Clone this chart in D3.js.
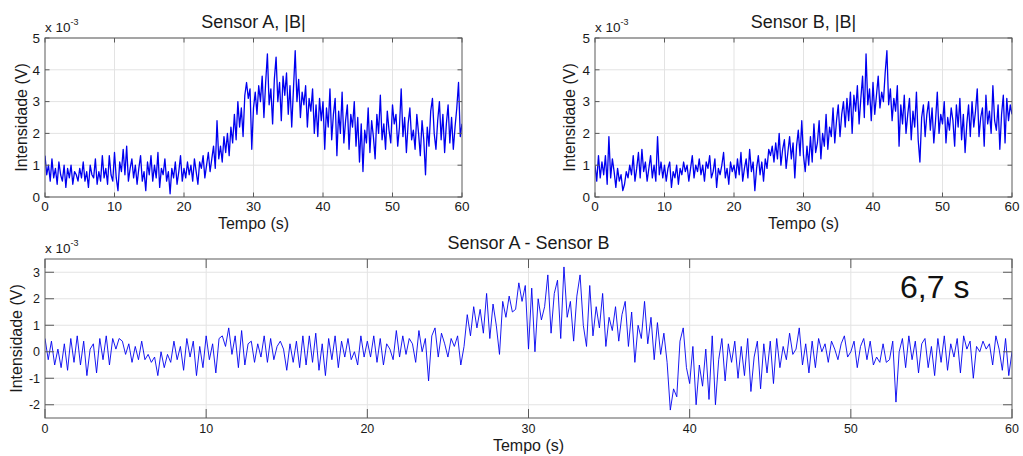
<!DOCTYPE html>
<html>
<head>
<meta charset="utf-8">
<script src="https://cdn.jsdelivr.net/npm/d3@7"></script>
<style>
  html, body { margin: 0; padding: 0; background: #fff; }
  svg { display: block; font-family: "Liberation Sans", Arial, sans-serif; }
</style>
</head>
<body>
<svg id="chart" width="1023" height="456"></svg>
<script>
'use strict';

// values in units of 1e-3 V
const sampleStepTop = 0.25;   // s
const sampleStepDiff = 0.2;   // s

const sensorA = [
  1.3, 0.7, 1.0, 0.5, 1.2, 0.6, 0.9, 0.4, 1.1, 0.7, 0.5, 1.0, 0.3, 0.9, 0.6, 1.0, 0.4, 0.8, 0.7, 0.5,
  0.9, 0.6, 1.1, 0.5, 0.8, 0.3, 1.0, 0.7, 0.6, 1.2, 0.4, 0.8, 0.5, 1.3, 0.6, 0.9, 0.4, 1.3, 0.7, 0.5,
  1.4, 0.6, 0.2, 1.1, 0.8, 1.5, 0.7, 1.6, 0.5, 0.9, 1.2, 0.6, 1.0, 0.4, 0.9, 1.3, 0.5, 0.8, 0.2, 1.1,
  0.7, 1.3, 0.5, 1.0, 0.6, 1.4, 0.3, 0.9, 0.7, 1.2, 0.5, 0.8, 0.1, 0.9, 0.6, 1.1, 0.4, 0.8, 1.3, 0.5,
  0.9, 0.6, 1.1, 0.7, 1.0, 0.5, 1.2, 0.8, 0.4, 1.1, 0.9, 1.3, 0.6, 1.0, 1.4, 0.8, 1.2, 1.6, 0.9, 2.4,
  1.2, 1.6, 1.1, 1.9, 1.4, 2.0, 1.3, 2.2, 1.7, 2.6, 1.8, 3.0, 2.2, 2.8, 1.9, 3.2, 3.6, 3.1, 3.4, 1.5,
  2.8, 3.3, 2.6, 3.5, 3.0, 3.8, 2.5, 3.6, 4.5, 2.9, 3.4, 2.3, 3.7, 4.4, 3.0, 3.6, 2.4, 3.8, 3.2, 3.9,
  2.6, 3.5, 2.2, 3.4, 4.6, 3.0, 3.7, 2.5, 3.3, 2.9, 3.5, 2.2, 3.1, 2.7, 3.4, 2.0, 2.9, 1.9, 3.1, 2.4,
  3.0, 1.5, 2.8, 2.2, 3.4, 1.8, 2.6, 3.1, 1.3, 2.7, 2.0, 3.3, 1.7, 2.4, 2.9, 1.5, 2.6, 2.2, 3.0, 1.6,
  2.5, 1.1, 2.3, 0.8, 2.1, 1.7, 2.8, 1.4, 2.4, 1.9, 1.2, 2.6, 2.0, 3.2, 1.8, 2.3, 1.5, 2.7, 2.1, 1.7,
  2.9, 2.3, 2.6, 1.6, 2.2, 3.4, 1.9, 2.5, 1.4, 2.3, 2.8, 1.8, 2.1, 1.5, 2.6, 2.0, 1.3, 2.4, 1.8, 0.7,
  2.2, 1.6, 2.7, 3.1, 2.0, 1.5, 2.4, 3.0, 1.8, 2.6, 1.4, 2.3, 2.9, 1.7, 2.5, 1.5, 2.2, 2.8, 3.6, 1.9,
  2.3
];

const sensorB = [
  1.0, 0.5, 1.3, 0.6, 1.1, 0.7, 1.3, 0.4, 1.9, 0.6, 1.2, 0.8, 0.3, 0.9, 0.5, 0.7, 0.2, 0.4, 0.8, 0.6,
  1.0, 0.7, 1.3, 0.5, 0.9, 1.4, 0.6, 1.5, 0.8, 1.1, 0.5, 0.9, 1.3, 0.6, 1.0, 0.5, 1.9, 0.7, 1.1, 0.6,
  1.0, 0.5, 0.9, 1.1, 0.3, 0.8, 0.6, 1.0, 0.4, 0.9, 0.7, 1.1, 0.8, 1.0, 0.5, 0.9, 1.3, 0.6, 1.0, 0.8,
  1.2, 0.7, 1.0, 0.5, 1.1, 0.9, 1.3, 0.6, 0.8, 1.2, 0.3, 0.9, 0.7, 1.0, 1.4, 0.6, 0.9, 0.4, 1.1, 0.8,
  1.0, 0.6, 1.2, 0.7, 1.4, 0.5, 0.9, 1.2, 0.6, 1.5, 0.8, 1.1, 0.2, 0.9, 1.3, 0.7, 1.1, 0.5, 1.2, 0.9,
  1.5, 1.3, 1.6, 1.1, 1.7, 1.2, 2.0, 1.0, 1.5, 1.8, 0.9, 1.4, 1.9, 1.2, 1.7, 0.6, 1.6, 2.1, 1.3, 2.4,
  1.3, 0.8, 1.6, 1.0, 1.9, 1.1, 2.3, 1.4, 1.7, 2.4, 1.2, 2.0, 1.6, 2.6, 1.5, 2.2, 1.9, 2.8, 1.7, 2.4,
  2.9, 1.9, 2.6, 3.0, 2.2, 3.1, 2.4, 3.3, 2.0, 3.2, 2.7, 3.5, 2.3, 3.1, 3.8, 2.5, 4.5, 2.9, 3.4, 2.4,
  3.6, 2.6, 3.2, 3.8, 2.8, 3.3, 3.0, 3.9, 4.6, 2.9, 3.4, 2.4, 3.1, 2.7, 3.5, 1.6, 2.9, 2.3, 3.2, 2.0,
  2.6, 3.1, 1.8, 2.7, 2.2, 3.3, 1.8, 1.1, 2.5, 2.9, 1.9, 2.6, 3.0, 2.1, 2.8, 1.7, 2.4, 3.3, 2.0, 2.6,
  2.3, 3.0, 1.7, 2.5, 2.1, 2.8, 2.4, 1.6, 2.9, 2.2, 3.1, 1.8, 2.6, 1.4, 2.3, 2.9, 1.9, 3.0, 2.2, 2.7,
  3.4, 1.9, 2.5, 2.8, 1.6, 3.2, 2.3, 2.7, 2.0, 3.5, 2.4, 2.1, 2.9, 1.5, 2.6, 3.2, 1.7, 3.1, 2.4, 2.9,
  2.6
];

const sensorDiff = [
  0.5, -0.3, 0.4, -0.5, 0.1, -0.6, 0.3, -0.7, 0.5, -0.4, 0.6, -0.5, 0.4, -0.9, 0.1, 0.3, -0.8, 0.5, -0.3, 0.6, -0.5, 0.5, 0.1, 0.5, 0.4,
  -0.1, 0.3, -0.4, 0.2, -0.3, 0.4, -0.3, -0.1, -0.4, -0.2, -0.9, 0.0, -0.6, -0.1, -0.4, 0.4, -0.3, 0.2, -0.7, 0.5, -0.2, 0.4, -0.9, 0.2, -0.6,
  0.6, -0.3, 0.3, -0.8, 0.5, 0.6, 0.2, 0.9, -0.1, 0.6, -0.6, 0.8, -0.5, 0.3, 0.4, -0.4, 0.3, -0.2, 0.6, -0.4, 0.5, -0.3, 0.2, 0.4, 0.1,
  -0.7, 0.3, -0.4, 0.4, -0.6, 0.6, -0.5, 0.6, -0.4, 0.7, -0.7, 0.3, -0.9, 0.5, -0.3, 0.6, -0.6, 0.4, -0.2, 0.5, -0.3, 0.0, -0.5, 0.6, -0.2,
  0.4, -0.2, 0.6, -0.4, 0.5, -0.5, 0.3, 0.1, -0.3, 0.8, -0.2, 0.6, -0.1, 0.5, 0.3, -0.4, 0.8, 0.0, 0.5, -1.1, 0.6, 0.9, -0.2, 0.7, 0.3,
  -0.2, 0.5, 0.2, 0.6, -0.5, 0.2, 1.4, 0.6, 1.7, 0.9, 1.6, 0.7, 2.2, 0.5, 1.8, 1.0, -0.1, 1.9, 1.3, 2.1, 1.5, 1.6, 2.6, 1.9, 2.5,
  0.1, 2.4, 0.0, 2.0, 1.2, 1.7, 2.9, 0.7, 2.2, 2.7, 0.5, 3.2, 1.3, 1.9, 0.4, 2.1, 2.9, 1.0, 0.2, 2.5, 0.6, 1.7, 0.9, 2.2, 0.2,
  1.3, 0.8, 1.7, 0.4, 1.4, 1.9, 0.2, 1.5, -0.4, 1.0, 0.5, 1.9, 0.3, 1.3, -0.3, 1.1, -0.1, 0.7, -0.4, -2.2, -1.4, -1.7, 0.4, 0.9, -0.6,
  -1.2, 0.2, -2.0, -0.5, -1.3, 0.1, -1.8, 0.6, -2.0, -0.3, 0.5, -1.1, 0.3, -0.4, 0.4, -1.0, 0.2, -0.9, 0.5, -1.5, -0.2, 0.4, -1.4, 0.3, -0.8,
  0.4, -1.2, 0.5, -0.6, 0.2, -0.3, 0.7, -0.1, 0.1, 0.9, -0.5, 0.3, -0.8, 0.4, -0.6, 0.5, 0.0, 0.3, -0.4, 0.4, 0.1, -0.3, 0.3, 0.6, -0.2,
  0.0, 0.4, -0.6, 0.2, 0.5, -0.3, 0.4, -0.5, -0.2, -0.4, 0.3, -0.4, -0.3, 0.4, -1.9, 0.0, 0.5, -0.6, 0.6, -0.3, 0.4, -0.8, 0.3, 0.5, -0.6,
  0.2, -0.9, 0.5, -0.4, 0.6, -0.7, 0.3, -0.2, 0.5, -0.8, 0.6, 0.1, 0.4, -1.0, 0.2, 0.0, 0.4, 0.1, 0.3, -0.5, 0.6, 0.1, -0.7, 0.5, -0.9,
  0.0
];

const xTicks = [0, 10, 20, 30, 40, 50, 60];
const yTicksTop = [0, 1, 2, 3, 4, 5];
const yTicksDiff = [-2, -1, 0, 1, 2, 3];
const titles = ['Sensor A, |B|', 'Sensor B, |B|', 'Sensor A - Sensor B'];
const xLabel = 'Tempo (s)';
const yLabel = 'Intensidade (V)';
const annotation = '6,7 s';

const svg = d3.select('#chart');
const frameColor = '#5a5a5a';
const gridColor = '#e3e3e3';
const textColor = '#1a1a1a';

function drawPanel(cfg, idx) {
  const x = d3.scaleLinear().domain([0, 60]).range([cfg.left, cfg.right]);
  const y = d3.scaleLinear().domain(cfg.yDomain).range([cfg.bottom, cfg.top]);
  const g = svg.append('g');
  const clipId = 'clip' + idx;

  svg.append('clipPath').attr('id', clipId)
    .append('rect')
    .attr('x', cfg.left).attr('y', cfg.top)
    .attr('width', cfg.right - cfg.left).attr('height', cfg.bottom - cfg.top);

  // grid
  g.append('g').selectAll('line')
    .data(xTicks.slice(1, -1))
    .join('line')
    .attr('x1', (d) => x(d)).attr('x2', (d) => x(d))
    .attr('y1', cfg.top).attr('y2', cfg.bottom)
    .attr('stroke', gridColor).attr('stroke-width', 1);
  g.append('g').selectAll('line')
    .data(cfg.yTicks)
    .join('line')
    .attr('x1', cfg.left).attr('x2', cfg.right)
    .attr('y1', (d) => y(d)).attr('y2', (d) => y(d))
    .attr('stroke', gridColor).attr('stroke-width', 1);

  // signal
  const line = d3.line()
    .x((d, i) => x(i * cfg.step))
    .y((d) => y(d));
  g.append('path')
    .datum(cfg.data)
    .attr('clip-path', `url(#${clipId})`)
    .attr('fill', 'none')
    .attr('stroke', '#0000f0')
    .attr('stroke-width', cfg.lineWidth)
    .attr('stroke-linejoin', 'round')
    .attr('d', line);

  // box
  g.append('rect')
    .attr('x', cfg.left).attr('y', cfg.top)
    .attr('width', cfg.right - cfg.left).attr('height', cfg.bottom - cfg.top)
    .attr('fill', 'none').attr('stroke', frameColor).attr('stroke-width', 1);

  // inward ticks on all four sides
  const tl = cfg.tickLen;
  const ticks = g.append('g').attr('stroke', frameColor).attr('stroke-width', 1);
  xTicks.forEach((t) => {
    ticks.append('line').attr('x1', x(t)).attr('x2', x(t)).attr('y1', cfg.bottom).attr('y2', cfg.bottom - tl);
    ticks.append('line').attr('x1', x(t)).attr('x2', x(t)).attr('y1', cfg.top).attr('y2', cfg.top + tl);
  });
  cfg.yTicks.forEach((t) => {
    ticks.append('line').attr('x1', cfg.left).attr('x2', cfg.left + tl).attr('y1', y(t)).attr('y2', y(t));
    ticks.append('line').attr('x1', cfg.right).attr('x2', cfg.right - tl).attr('y1', y(t)).attr('y2', y(t));
  });

  // tick labels
  g.append('g').selectAll('text')
    .data(xTicks)
    .join('text')
    .attr('x', (d) => x(d))
    .attr('y', cfg.bottom + cfg.xTickDy)
    .attr('text-anchor', 'middle')
    .attr('font-size', cfg.tickFont)
    .attr('fill', textColor)
    .text((d) => d);
  g.append('g').selectAll('text')
    .data(cfg.yTicks)
    .join('text')
    .attr('x', cfg.left - 5)
    .attr('y', (d) => y(d))
    .attr('dy', '0.35em')
    .attr('text-anchor', 'end')
    .attr('font-size', cfg.tickFont)
    .attr('fill', textColor)
    .text((d) => d);

  // exponent label
  const exp = g.append('text')
    .attr('x', cfg.left)
    .attr('y', cfg.top - 6)
    .attr('font-size', 13.5)
    .attr('fill', textColor);
  exp.append('tspan').text('x 10');
  exp.append('tspan').attr('dy', -7).attr('font-size', 9).text('-3');

  // title, axis labels
  g.append('text')
    .attr('x', (cfg.left + cfg.right) / 2)
    .attr('y', cfg.titleY)
    .attr('text-anchor', 'middle')
    .attr('font-size', 18)
    .attr('fill', textColor)
    .text(titles[idx]);
  g.append('text')
    .attr('x', (cfg.left + cfg.right) / 2)
    .attr('y', cfg.xLabelY)
    .attr('text-anchor', 'middle')
    .attr('font-size', 16)
    .attr('fill', textColor)
    .text(xLabel);
  g.append('text')
    .attr('transform', `translate(${cfg.yLabelX},${(cfg.top + cfg.bottom) / 2}) rotate(-90)`)
    .attr('text-anchor', 'middle')
    .attr('dy', '0.35em')
    .attr('font-size', 16)
    .attr('fill', textColor)
    .text(yLabel);

  return { x, y, g };
}

const panels = [
  { left: 45, right: 462, top: 38, bottom: 197, yDomain: [0, 5], yTicks: yTicksTop,
    data: sensorA, step: sampleStepTop, lineWidth: 1.3, tickLen: 4.5, tickFont: 13.5, xTickDy: 14,
    titleY: 28, xLabelY: 229, yLabelX: 21 },
  { left: 595, right: 1012, top: 38, bottom: 197, yDomain: [0, 5], yTicks: yTicksTop,
    data: sensorB, step: sampleStepTop, lineWidth: 1.3, tickLen: 4.5, tickFont: 13.5, xTickDy: 14,
    titleY: 28, xLabelY: 229, yLabelX: 569 },
  { left: 45, right: 1012, top: 259, bottom: 418, yDomain: [-2.5, 3.5], yTicks: yTicksDiff,
    data: sensorDiff, step: sampleStepDiff, lineWidth: 0.9, tickLen: 9, tickFont: 12.5, xTickDy: 15,
    titleY: 249, xLabelY: 451, yLabelX: 16 },
];

const drawn = panels.map((cfg, i) => drawPanel(cfg, i));

drawn[2].g.append('text')
  .attr('x', 900)
  .attr('y', 298)
  .attr('font-size', 32)
  .attr('fill', '#111')
  .text(annotation);
</script>
</body>
</html>
